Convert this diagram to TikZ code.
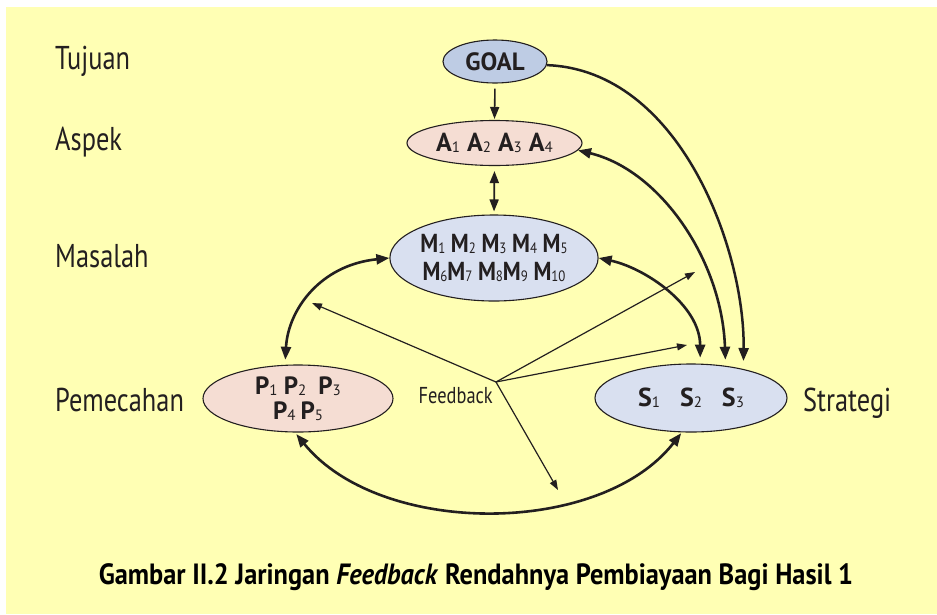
\documentclass[tikz,border=0pt]{standalone}
\usepackage{fontspec}
\usetikzlibrary{shapes.geometric,arrows.meta}
\newfontfamily\lblfont{PT Sans}[FakeStretch=0.8]
\newfontfamily\ndfont{PT Sans}
\newfontfamily\ndcfont{PT Sans}[FakeStretch=0.86]
\newfontfamily\capfont{PT Sans}[FakeStretch=0.9]
\definecolor{bgyellow}{RGB}{255,255,180}
\definecolor{inkc}{RGB}{35,31,32}
\definecolor{goalc}{RGB}{190,204,228}
\definecolor{pinkc}{RGB}{245,221,211}
\definecolor{bluec}{RGB}{217,224,240}
\newcommand\sbs[1]{\raisebox{-1pt}{\fontsize{15}{15}\selectfont\mdseries #1}}
\tikzset{
  ell/.style={ellipse, draw=inkc, line width=1.1pt, inner sep=0pt, text=inkc,
    font=\ndfont\bfseries\fontsize{26}{28}\selectfont, align=center},
  lbl/.style={anchor=base west, text=inkc, inner sep=0pt, font=\lblfont\fontsize{33}{36}\selectfont},
  thk/.style={draw=inkc, line width=2.6pt, {Triangle[length=13pt,width=10pt]}-{Triangle[length=13pt,width=10pt]}},
  med/.style={draw=inkc, line width=2.5pt, -{Triangle[length=13pt,width=10pt]}},
  fb/.style={draw=inkc, line width=1.2pt, -{Triangle[length=10pt,width=7pt]}}
}
\begin{document}
\begin{tikzpicture}[x=1pt,y=-1pt]
\useasboundingbox (0,0) rectangle (937,614);
\fill[white] (0,0) rectangle (937,614);
\fill[bgyellow] (6,7) rectangle (937,614);

% side labels
\node[lbl] (tl) at (55,69) {Tujuan};
\node[lbl] (al) at (55,150) {Aspek};
\node[lbl] (ml) at (55,267) {Masalah};
\node[lbl] (pl) at (55,411) {Pemecahan};
\node[lbl] (sl) at (803,411) {Strategi};

% nodes
\node[ell, fill=goalc, minimum width=104pt, minimum height=43pt,
  font=\ndfont\bfseries\fontsize{25}{28}\selectfont] (goal) at (495,61.5) {GOAL};
\node[ell, fill=pinkc, minimum width=175pt, minimum height=45pt] (A) at (494.5,143)
  {A\sbs{1}\hspace{7pt}A\sbs{2}\hspace{7pt}A\sbs{3}\hspace{7pt}A\sbs{4}};
\node[ell, fill=bluec, minimum width=208pt, minimum height=86pt,
  font=\ndcfont\bfseries\fontsize{26}{28}\selectfont] (M) at (494,258)
  {M\sbs{1} M\sbs{2} M\sbs{3} M\sbs{4} M\sbs{5}\\M\sbs{6}M\sbs{7} M\sbs{8}M\sbs{9} M\sbs{10}};
\node[ell, fill=pinkc, minimum width=190pt, minimum height=67pt,
  font=\ndfont\bfseries\fontsize{25}{25}\selectfont] (P) at (298,398.5)
  {P\sbs{1} P\sbs{2}\hspace{12pt}P\sbs{3}\\P\sbs{4}\hspace{5pt}P\sbs{5}};
\node[ell, fill=bluec, minimum width=192pt, minimum height=68pt] (S) at (691,398)
  {S\sbs{1}\hspace{20pt}S\sbs{2}\hspace{20pt}S\sbs{3}};

% straight arrows
\draw[draw=inkc, line width=1.6pt, -{Triangle[length=12pt,width=9pt]}, shorten <=5pt, shorten >=1pt] (goal.south) -- (A.north);
\draw[draw=inkc, line width=1.8pt, {Triangle[length=12pt,width=9pt]}-{Triangle[length=12pt,width=9pt]}, shorten <=5pt, shorten >=3pt] (A.south) -- (M.north);

% curved arrows
\draw[med, shorten >=8pt] (goal.-4) .. controls (680,70) and (745,250) .. (S.29);
\draw[thk, shorten >=6pt] (A.-5) .. controls (660,170) and (722,260) .. (S.43);
\draw[thk, shorten >=6pt] (M.east) .. controls (645,268) and (700,305) .. (S.75);
\draw[thk, shorten >=5pt] (M.west) .. controls (320,265) and (288,310) .. (P.111);
\draw[thk, shorten <=2pt, shorten >=1pt] (P.-95) .. controls (380,537) and (600,537) .. (S.-105);

% feedback
\coordinate (fbc) at (496,382);
\coordinate (f1) at (312,303);
\coordinate (f2) at (695,272);
\coordinate (f3) at (687,345);
\coordinate (f4) at (558,490);
\draw[fb] (fbc) -- (f1);
\draw[fb] (fbc) -- (f2);
\draw[fb] (fbc) -- (f3);
\draw[fb] (fbc) -- (f4);
\node[anchor=base east, inner sep=0pt, text=inkc, font=\lblfont\fontsize{23}{23}\selectfont] (fbl) at (493,403) {Feedback};

% caption
\node[anchor=base, inner sep=0pt, text=black, font=\capfont\bfseries\fontsize{29.3}{29.3}\selectfont] (cap) at (476,584)
  {Gambar II.2 Jaringan \textit{Feedback} Rendahnya Pembiayaan Bagi Hasil 1};
\end{tikzpicture}
\end{document}
